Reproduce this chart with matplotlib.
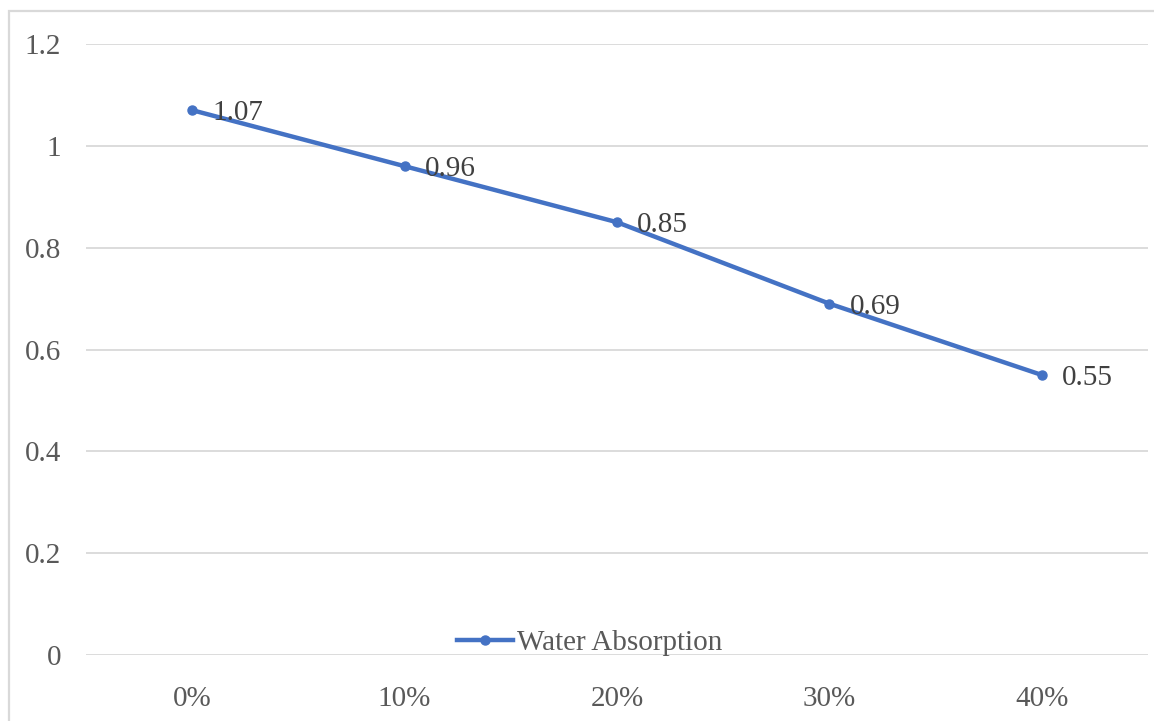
import matplotlib.pyplot as plt
from matplotlib.patches import Rectangle

categories = ["0%", "10%", "20%", "30%", "40%"]
absorption = [1.07, 0.96, 0.85, 0.69, 0.55]
series_name = "Water Absorption"

plt.rcParams['font.family'] = ['Liberation Serif', 'DejaVu Serif']

fig = plt.figure(figsize=(11.54, 7.21), dpi=100)
ax = fig.add_axes([0.0745, 0.0915, 0.9203, 0.8475])

x = list(range(len(categories)))
line, = ax.plot(x, absorption, color='#4472C4', linewidth=3.2, marker='o',
                markersize=6.5, label=series_name, zorder=3)

for xi, yi in zip(x, absorption):
    ax.annotate(f"{yi:g}", (xi, yi), xytext=(20, -3), textcoords='offset pixels',
                ha='left', va='center', fontsize=21, color='#404040', zorder=4)

ax.set_xlim(-0.5, len(categories) - 0.5)
ax.set_ylim(0, 1.2)
ax.set_yticks([0, 0.2, 0.4, 0.6, 0.8, 1.0, 1.2])
ax.set_yticklabels(["0", "0.2", "0.4", "0.6", "0.8", "1", "1.2"])
ax.set_xticks(x)
ax.set_xticklabels(categories)
ax.tick_params(axis='y', length=0, pad=18, labelsize=21, labelcolor='#595959')
ax.tick_params(axis='x', length=0, pad=22, labelsize=21, labelcolor='#595959')
ax.grid(axis='y', color='#D9D9D9', linewidth=1.3, zorder=0)
for s in ax.spines.values():
    s.set_visible(False)
ax.set_axisbelow(True)

fig.legend(handles=[line], loc='center', bbox_to_anchor=(0.511, 0.108),
           frameon=False, fontsize=21, handlelength=1.9, handletextpad=0.15,
           labelcolor='#595959')

# outer chart border (cropped on right and bottom)
fig.patches.append(Rectangle((8.5 / 1154, -0.1), 1.2, 1 - 10.5 / 721 + 0.1,
                             transform=fig.transFigure, fill=False,
                             edgecolor='#D9D9D9', linewidth=1.6))

fig.savefig("out.png", dpi=100)
